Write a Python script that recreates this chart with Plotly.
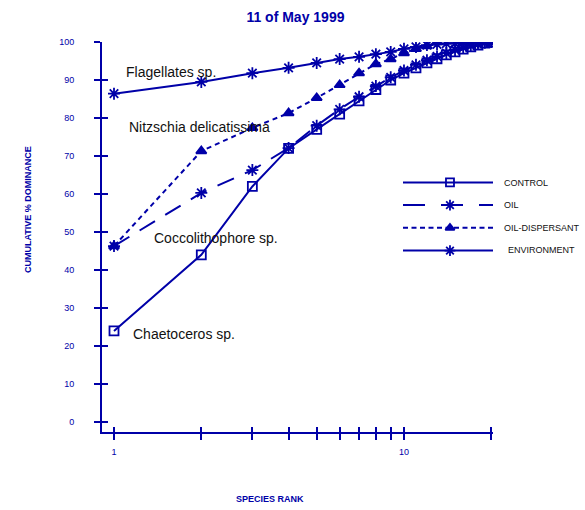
import plotly.graph_objects as go

# Species rank (log axis) and cumulative % dominance per treatment
rank = list(range(1, 21))
control = [24, 44, 62, 72, 77, 81, 84.5, 87.5, 90, 91.8, 93.2, 94.5, 95.6, 96.6,
           97.4, 98.1, 98.7, 99.2, 99.7, 100]
oil = [46.3, 60.3, 66.3, 72.1, 78, 82.3, 85.6, 88.4, 90.7, 92.5, 94, 95.2, 96.2,
       97.1, 97.9, 98.5, 99, 99.5, 99.8, 100]
dispersant_rank = list(range(1, 14))
dispersant = [46.3, 71.3, 77.4, 81.3, 85.3, 88.7, 91.8, 94.2, 95.5, 97.1, 98.2, 98.9, 100]
environment = [86.4, 89.5, 91.8, 93.2, 94.5, 95.5, 96.1, 96.8, 97.4, 98.2, 98.7, 99.2,
               99.4, 99.6, 99.7, 99.8, 99.9, 99.95, 100, 100]

series_names = ["CONTROL", "OIL", "OIL-DISPERSANT", "ENVIRONMENT"]
species_labels = ["Flagellates sp.", "Nitzschia delicatissima",
                  "Coccolithophore sp.", "Chaetoceros sp."]
y_ticks = [0, 10, 20, 30, 40, 50, 60, 70, 80, 90, 100]
x_ticks = [1, 2, 3, 4, 5, 6, 7, 8, 9, 10, 20]
x_ticktext = ["1", "", "", "", "", "", "", "", "", "10", ""]

BLUE = "#0000a8"
FONT = "Liberation Sans, Arial, sans-serif"

# plot-area placement in pixels (left, right, top, bottom)
L, R, T, B = 102, 493, 42, 432
W_PX, H_PX = R - L, B - T


def px_to_paper(px, py):
    return (px - L) / W_PX, (B - py) / H_PX


styles = {
    "CONTROL": dict(dash="solid", symbol="square-open", size=9),
    "OIL": dict(dash="18px,12px", symbol="asterisk-open", size=10),
    "OIL-DISPERSANT": dict(dash="5px,4px", symbol="triangle-up", size=9),
    "ENVIRONMENT": dict(dash="solid", symbol="asterisk-open", size=10),
}
key_dash = {"CONTROL": "solid", "OIL": "22px,16px",
            "OIL-DISPERSANT": "5px,3.5px", "ENVIRONMENT": "solid"}
data = {
    "CONTROL": (rank, control),
    "OIL": (rank, oil),
    "OIL-DISPERSANT": (dispersant_rank, dispersant),
    "ENVIRONMENT": (rank, environment),
}

fig = go.Figure()
for name in series_names:
    xs, ys = data[name]
    st = styles[name]
    fig.add_trace(go.Scatter(
        x=xs, y=ys, mode="lines+markers", name=name,
        line=dict(color=BLUE, width=2, dash=st["dash"]),
        marker=dict(symbol=st["symbol"], size=st["size"], color=BLUE,
                    line=dict(color=BLUE, width=1.8)),
        showlegend=False, xaxis="x", yaxis="y",
    ))

# overlay axes that carry the inner half of the crossing tick marks
fig.add_trace(go.Scatter(x=[1], y=[0], mode="markers", marker=dict(opacity=0),
                         showlegend=False, hoverinfo="skip", xaxis="x2", yaxis="y2"))

# hand-drawn key: line with the marker in its middle
legend_rows = {"CONTROL": 3, "OIL": 2, "OIL-DISPERSANT": 1, "ENVIRONMENT": 0}
for name in series_names:
    st = styles[name]
    row = legend_rows[name]
    fig.add_trace(go.Scatter(
        x=[0, 1], y=[row, row], mode="lines",
        line=dict(color=BLUE, width=2, dash=key_dash[name]),
        showlegend=False, hoverinfo="skip", xaxis="x3", yaxis="y3"))
    fig.add_trace(go.Scatter(
        x=[0.522], y=[row], mode="markers",
        marker=dict(symbol=st["symbol"], size=st["size"] - 1, color=BLUE,
                    line=dict(color=BLUE, width=1.8)),
        showlegend=False, hoverinfo="skip", xaxis="x3", yaxis="y3"))

xr = [-0.0414, 1.307]
yr = [-2.6, 100]
tickfont = dict(family=FONT, size=9, color=BLUE)

fig.update_layout(
    width=585, height=510,
    margin=dict(l=L, r=585 - R, t=T, b=510 - B, autoexpand=False),
    paper_bgcolor="white", plot_bgcolor="white",
    title=dict(text="<b>11 of May 1999</b>", x=0.505, xanchor="center", y=0.967,
               yanchor="middle", font=dict(family=FONT, size=14, color=BLUE)),
    xaxis=dict(type="log", range=xr, tickvals=x_ticks, ticktext=x_ticktext,
               ticks="outside", ticklen=6, tickwidth=1.5, tickcolor=BLUE,
               showline=True, linecolor=BLUE, linewidth=2, showgrid=False,
               zeroline=False, tickfont=tickfont, ticklabelstandoff=4,
               automargin=False),
    yaxis=dict(range=yr, tickvals=y_ticks, ticks="outside", ticklen=6,
               tickwidth=1.5, tickcolor=BLUE, showline=True, linecolor=BLUE,
               linewidth=2, showgrid=False, zeroline=False, tickfont=tickfont,
               ticklabelstandoff=18, automargin=False),
    xaxis2=dict(type="log", range=xr, overlaying="x", anchor="y2", side="bottom",
                tickvals=x_ticks, showticklabels=False, ticks="inside", ticklen=5,
                tickwidth=1.5, tickcolor=BLUE, showline=False, showgrid=False,
                zeroline=False, automargin=False),
    yaxis2=dict(range=yr, overlaying="y", anchor="x2", side="left",
                tickvals=y_ticks, showticklabels=False, ticks="inside", ticklen=6,
                tickwidth=1.5, tickcolor=BLUE, showline=False, showgrid=False,
                zeroline=False, automargin=False),
    xaxis3=dict(domain=[(403 - L) / W_PX, 1.0], range=[0, 1], anchor="y3",
                visible=False),
    yaxis3=dict(domain=[(B - 262) / H_PX, (B - 171) / H_PX], range=[-0.5, 3.5],
                anchor="x3", visible=False),
)

# axis titles
ax_x, ax_y = px_to_paper(270, 499)
fig.add_annotation(text="<b>SPECIES RANK</b>", xref="paper", yref="paper",
                   x=ax_x, y=ax_y, showarrow=False, xanchor="center", yanchor="middle",
                   font=dict(family=FONT, size=9, color=BLUE))
ay_x, ay_y = px_to_paper(28, 210)
fig.add_annotation(text="<b>CUMULATIVE % DOMINANCE</b>", xref="paper", yref="paper",
                   x=ay_x, y=ay_y, showarrow=False, textangle=-90,
                   xanchor="center", yanchor="middle",
                   font=dict(family=FONT, size=9, color=BLUE))

# species name labels beside the curves
label_pos = [(124, 72), (127, 127), (152, 238), (131, 334)]
for text, (px, py) in zip(species_labels, label_pos):
    lx, ly = px_to_paper(px, py)
    fig.add_annotation(text=text, xref="paper", yref="paper", x=lx, y=ly,
                       xanchor="left", yanchor="middle", showarrow=False,
                       font=dict(family=FONT, size=14, color="#111111"))

# key labels
key_y = {"CONTROL": 183, "OIL": 205, "OIL-DISPERSANT": 228, "ENVIRONMENT": 250}
key_x = {"CONTROL": 502, "OIL": 502, "OIL-DISPERSANT": 502, "ENVIRONMENT": 506}
for name in series_names:
    kx, ky = px_to_paper(key_x[name], key_y[name])
    fig.add_annotation(text=name, xref="paper", yref="paper", x=kx, y=ky,
                       xanchor="left", yanchor="middle", showarrow=False,
                       font=dict(family=FONT, size=9, color="#111111"))

fig.write_html("out.html")
